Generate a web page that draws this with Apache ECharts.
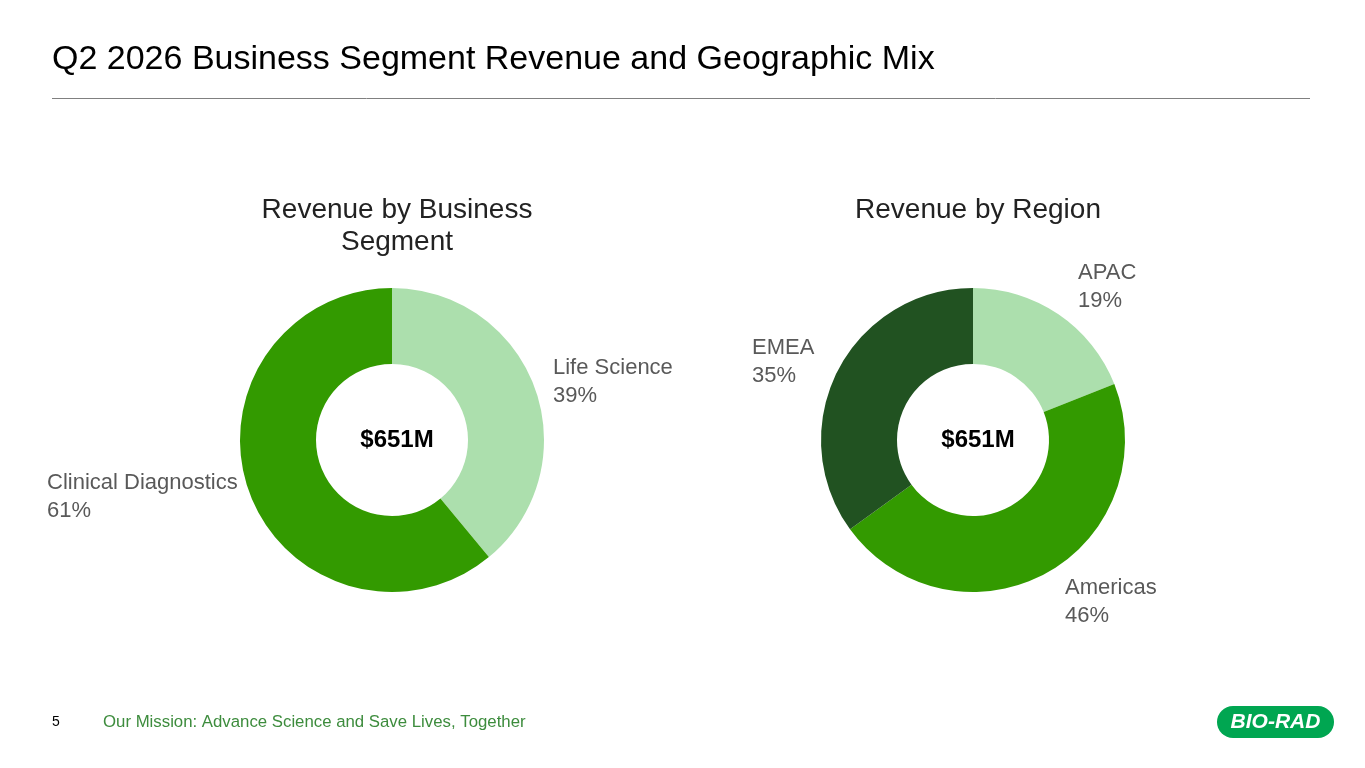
<!DOCTYPE html>
<html>
<head>
<meta charset="utf-8">
<title>Q2 2026 Business Segment Revenue and Geographic Mix</title>
<script src="https://cdn.jsdelivr.net/npm/echarts@6/dist/echarts.min.js"></script>
<style>
  html, body { margin: 0; padding: 0; background: #fff; }
  #chart { width: 1365px; height: 768px; }
</style>
</head>
<body>
<div id="chart"></div>
<script>
// data
const segmentNames = ['Life Science', 'Clinical Diagnostics'];
const segmentShare = [39, 61];
const regionNames = ['APAC', 'Americas', 'EMEA'];
const regionShare = [19, 46, 35];
const totalRevenue = '$651M';

const pageTitle = 'Q2 2026 Business Segment Revenue and Geographic Mix';
const segmentTitle = 'Revenue by Business\nSegment';
const regionTitle = 'Revenue by Region';
const footerText = 'Our Mission: Advance Science and Save Lives, Together';
const pageNo = '5';

// colours
const LIGHT = '#acdfad';
const MID = '#339a00';
const DARK = '#215221';
const LABEL_GREY = '#595959';

// top-left corner of each slice label block (layout only)
const labelPos = {
  'Life Science': [553, 354],
  'Clinical Diagnostics': [47, 469],
  'APAC': [1078, 259],
  'Americas': [1065, 574],
  'EMEA': [752, 334]
};

const FONT = "'Liberation Sans', Arial, sans-serif";

function pieSeries(names, values, colors, cx) {
  return {
    type: 'pie',
    center: [cx, 440],
    radius: [76, 152],
    startAngle: 90,
    clockwise: true,
    silent: true,
    data: names.map((n, i) => ({ name: n, value: values[i], itemStyle: { color: colors[i] } })),
    label: {
      show: true,
      position: 'outside',
      formatter: '{b}\n{c}%',
      color: LABEL_GREY,
      fontFamily: FONT,
      fontSize: 22,
      lineHeight: 28,
      overflow: 'none'
    },
    labelLine: { show: false },
    labelLayout: function (params) {
      const p = labelPos[names[params.dataIndex]];
      return { x: p[0], y: p[1], align: 'left', verticalAlign: 'top' };
    },
    emphasis: { disabled: true }
  };
}

let container = document.getElementById('chart');
let myChart = echarts.init(container);

let options = {
  backgroundColor: '#fff',
  animation: false,
  title: [
    {
      text: segmentTitle, left: 392, top: 189, textAlign: 'center',
      textStyle: { fontFamily: FONT, fontSize: 28, fontWeight: 'normal', color: '#222', lineHeight: 32 }
    },
    {
      text: regionTitle, left: 973, top: 189, textAlign: 'center',
      textStyle: { fontFamily: FONT, fontSize: 28, fontWeight: 'normal', color: '#222', lineHeight: 32 }
    },
    {
      text: totalRevenue, left: 392, top: 423, textAlign: 'center',
      textStyle: { fontFamily: FONT, fontSize: 24, fontWeight: 'bold', color: '#000' }
    },
    {
      text: totalRevenue, left: 973, top: 423, textAlign: 'center',
      textStyle: { fontFamily: FONT, fontSize: 24, fontWeight: 'bold', color: '#000' }
    }
  ],
  graphic: [
    {
      type: 'text', left: 52, top: 43,
      style: { text: pageTitle, font: '34px ' + FONT, fill: '#000' }
    },
    {
      type: 'line',
      shape: { x1: 52, y1: 98.5, x2: 1310, y2: 98.5 },
      style: { stroke: '#808080', lineWidth: 1 }
    },
    {
      type: 'text', left: 52, top: 715,
      style: { text: pageNo, font: '14px ' + FONT, fill: '#000' }
    },
    {
      type: 'text', left: 103, top: 714,
      style: { text: footerText, font: '16.8px ' + FONT, fill: '#3d8c3d' }
    },
    {
      type: 'group', left: 1217, top: 706,
      children: [
        { type: 'rect', shape: { x: 0, y: 0, width: 117, height: 32, r: 16 }, style: { fill: '#00a651' } },
        {
          type: 'text', style: {
            text: 'BIO-RAD', x: 58.5, y: 16, align: 'center', verticalAlign: 'middle',
            font: 'italic bold 21px ' + FONT, fill: '#fff'
          }
        }
      ]
    }
  ],
  series: [
    pieSeries(segmentNames, segmentShare, [LIGHT, MID], 392),
    pieSeries(regionNames, regionShare, [LIGHT, MID, DARK], 973)
  ]
};

myChart.setOption(options);
window.addEventListener('resize', () => { myChart.resize(); });
</script>
</body>
</html>
